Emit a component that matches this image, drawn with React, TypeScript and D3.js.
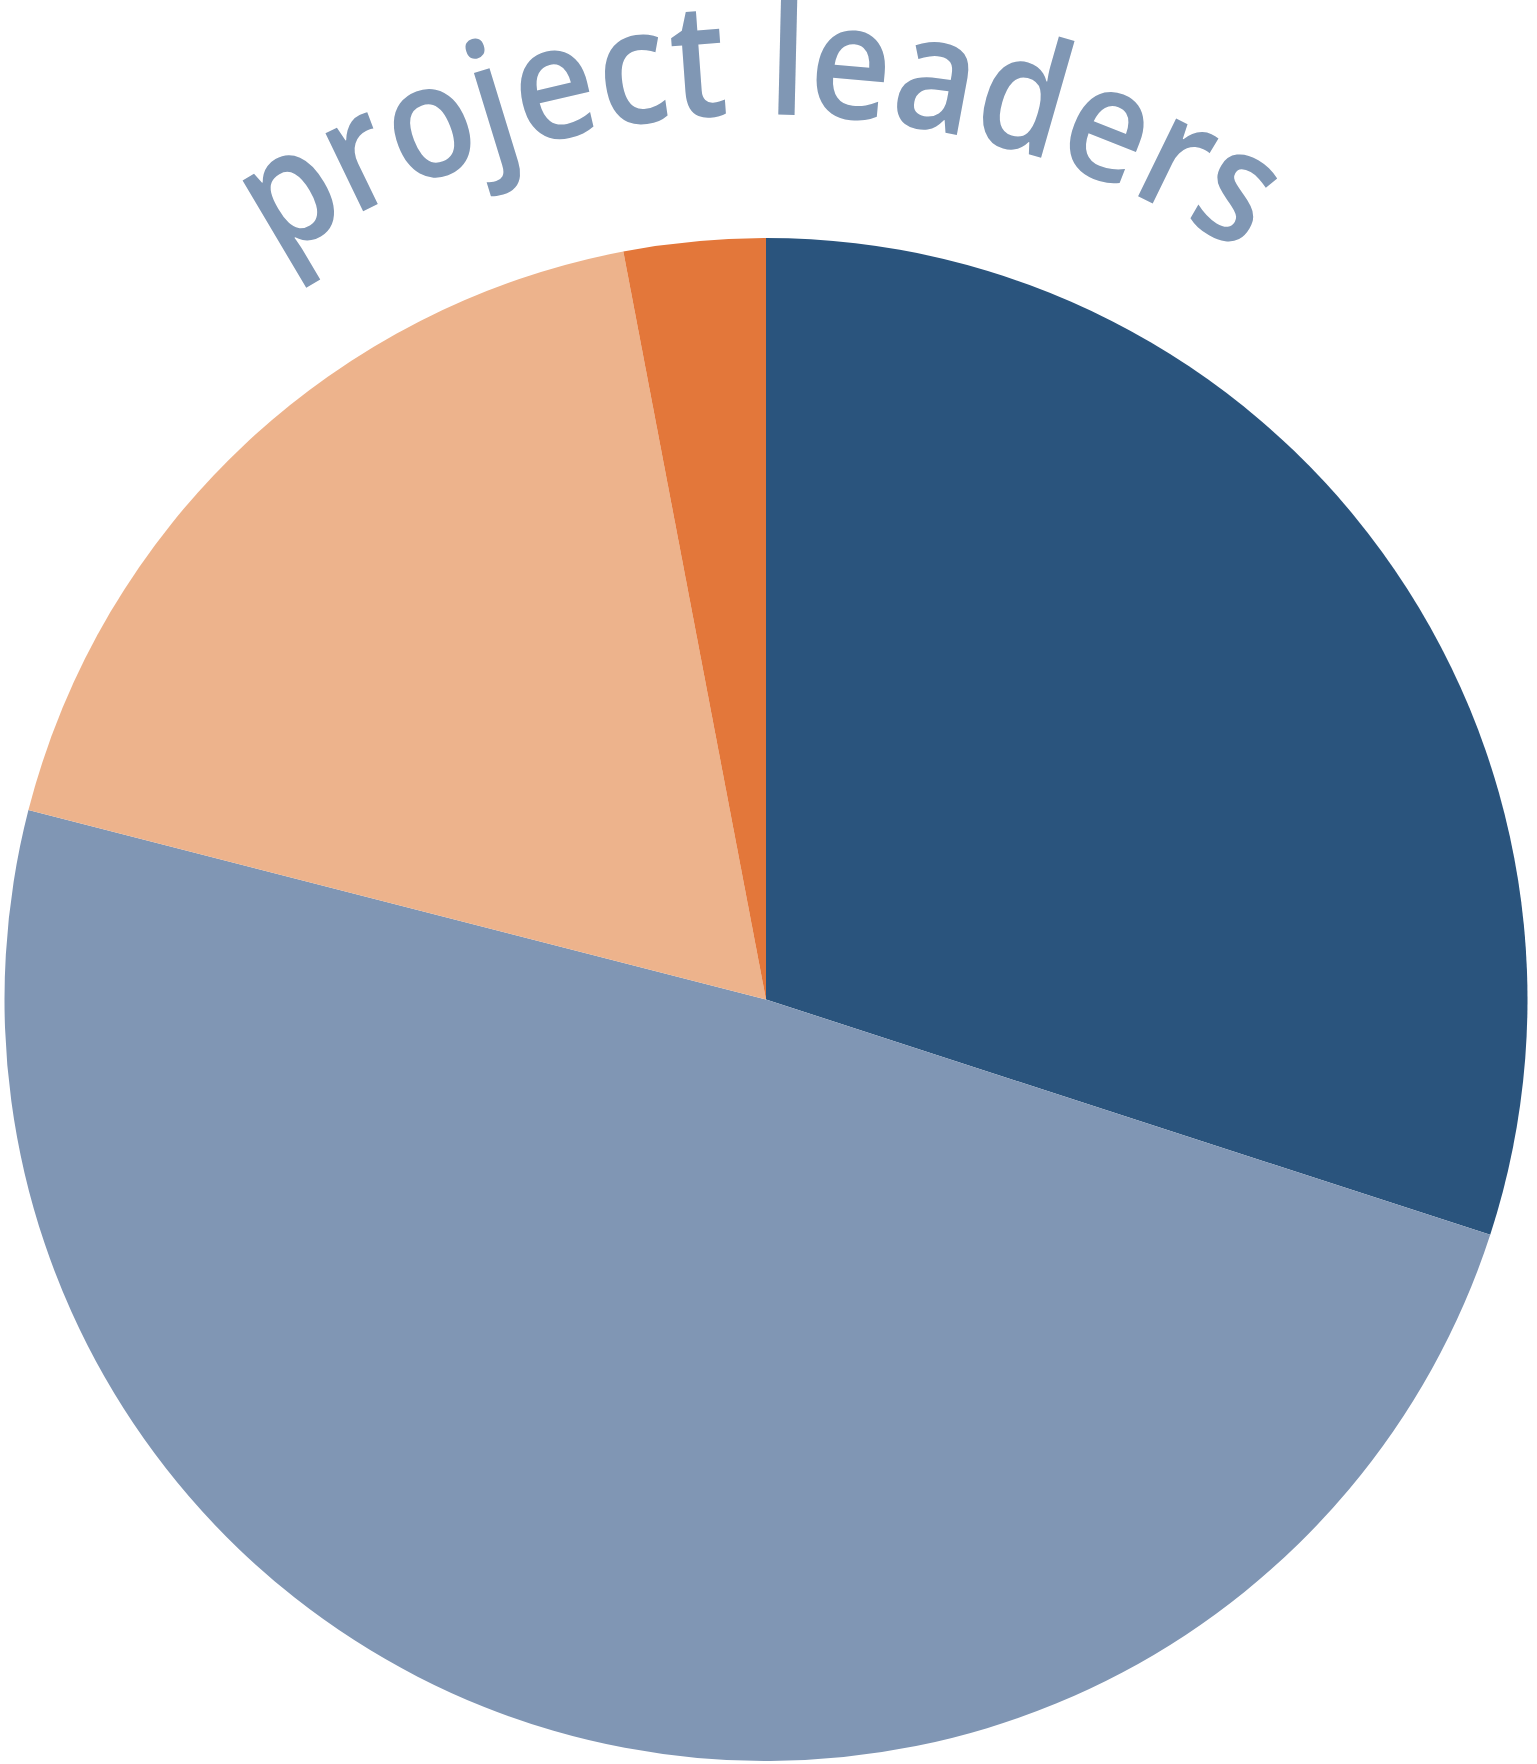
import React from "react";
import * as d3 from "d3";

const categories = ["A", "B", "C", "D"];
const values = [30, 49, 18, 3];
const colors = ["#2A547D", "#8096B4", "#EDB38C", "#E3773A"];
const title = "project leaders";

export default function App() {
  const W = 1537, H = 1764;
  const cx = 766, cy = 999.5, R = 761.5;
  const pie = d3.pie<number>().sort(null).value((d) => d).startAngle(0).endAngle(2 * Math.PI);
  const arcs = pie(values);
  const arcGen = d3.arc<d3.PieArcDatum<number>>().innerRadius(0).outerRadius(R);

  const tr = 885;
  const mid = (-0.5 * Math.PI) / 180;
  const half = (60 * Math.PI) / 180;
  const a0 = mid - half, a1 = mid + half;
  const p0 = [cx + tr * Math.sin(a0), cy - tr * Math.cos(a0)];
  const p1 = [cx + tr * Math.sin(a1), cy - tr * Math.cos(a1)];
  const textArc = `M${p0[0]},${p0[1]} A${tr},${tr} 0 0 1 ${p1[0]},${p1[1]}`;
  const span = (66 * Math.PI / 180) * tr;

  return (
    <svg width={W} height={H} style={{ position: "absolute", left: 0, top: 0 }}>
      <g transform={`translate(${cx},${cy})`}>
        {arcs.map((a, i) => (
          <path key={categories[i]} d={arcGen(a) || ""} fill={colors[i]} />
        ))}
      </g>
      <defs>
        <path id="titleArc" d={textArc} />
      </defs>
      <text fontFamily="'Open Sans', sans-serif" fontSize={160} fontWeight={600} fill="#8097B4">
        <textPath href="#titleArc" startOffset="50%" textAnchor="middle" textLength={span} lengthAdjust="spacingAndGlyphs">
          {title}
        </textPath>
      </text>
    </svg>
  );
}
